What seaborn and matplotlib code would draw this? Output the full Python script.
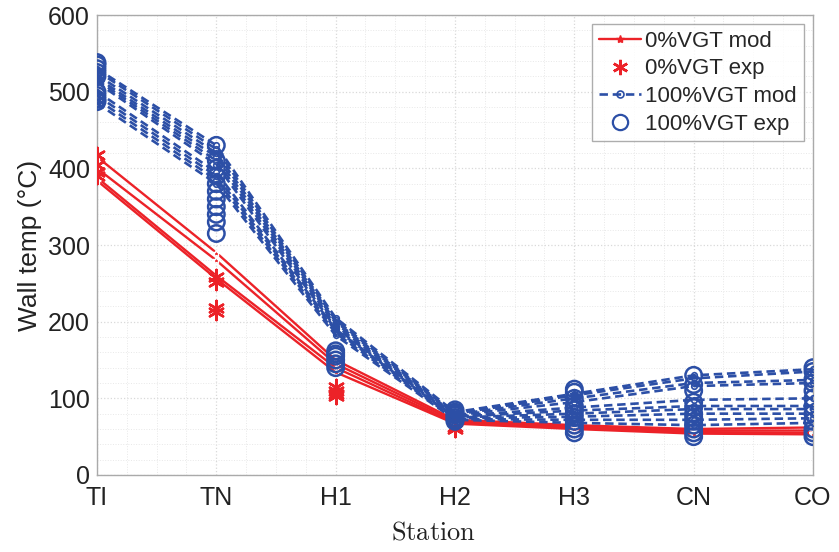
import numpy as np
import pandas as pd
import matplotlib
matplotlib.use("Agg")
import matplotlib.pyplot as plt
from matplotlib.lines import Line2D
from matplotlib.ticker import AutoMinorLocator, MultipleLocator
import seaborn as sns

stations = ["TI", "TN", "H1", "H2", "H3", "CN", "CO"]

# 0% VGT model runs (one list per run, values per station)
red_mod_1 = [415, 290, 150, 72, 65, 60, 62]
red_mod_2 = [400, 280, 145, 70, 63, 58, 58]
red_mod_3 = [388, 260, 140, 68, 62, 56, 55]
red_mod_4 = [384, 256, 134, 67, 60, 54, 53]

# 0% VGT experimental points
red_exp_station = ["TI", "TI", "TI", "TI", "TN", "TN", "TN", "TN", "H1", "H1", "H1", "H1", "H2", "H2"]
red_exp_temp = [418, 405, 395, 390, 258, 252, 218, 213, 115, 110, 105, 103, 62, 60]

# 100% VGT model runs
blue_mod_1 = [530, 430, 205, 82, 106, 130, 138]
blue_mod_2 = [527, 425, 202, 80, 104, 126, 135]
blue_mod_3 = [522, 420, 200, 79, 100, 120, 124]
blue_mod_4 = [518, 415, 198, 78, 95, 116, 120]
blue_mod_5 = [515, 410, 195, 77, 88, 98, 100]
blue_mod_6 = [512, 405, 192, 76, 84, 90, 90]
blue_mod_7 = [500, 395, 190, 75, 80, 86, 86]
blue_mod_8 = [495, 390, 188, 74, 76, 80, 80]
blue_mod_9 = [490, 385, 185, 73, 72, 72, 74]
blue_mod_10 = [485, 380, 182, 72, 68, 65, 68]

# 100% VGT experimental points
blue_exp_TI = [538, 535, 530, 525, 520, 500, 495, 490, 487]
blue_exp_TN = [430, 410, 400, 390, 380, 370, 360, 350, 340, 330, 315]
blue_exp_H1 = [162, 158, 155, 150, 145, 140]
blue_exp_H2 = [85, 82, 80, 78, 75, 72, 70]
blue_exp_H3 = [112, 108, 100, 90, 85, 80, 75, 70, 65, 60, 55]
blue_exp_CN = [130, 118, 110, 95, 88, 80, 75, 70, 65, 60, 55, 50]
blue_exp_CO = [140, 135, 125, 120, 110, 100, 90, 80, 70, 60, 55, 50]

RED = "#ec2228"
BLUE = "#2c4fa6"

pos = {s: i for i, s in enumerate(stations)}

def runs_df(runs):
    rows = []
    for r, vals in enumerate(runs):
        for s, v in zip(stations, vals):
            rows.append({"x": pos[s], "temp": v, "run": r})
    return pd.DataFrame(rows)

red_mod_df = runs_df([red_mod_1, red_mod_2, red_mod_3, red_mod_4])
blue_mod_df = runs_df([blue_mod_1, blue_mod_2, blue_mod_3, blue_mod_4, blue_mod_5,
                       blue_mod_6, blue_mod_7, blue_mod_8, blue_mod_9, blue_mod_10])
red_exp_df = pd.DataFrame({"x": [pos[s] for s in red_exp_station], "temp": red_exp_temp})
bexp = {"TI": blue_exp_TI, "TN": blue_exp_TN, "H1": blue_exp_H1, "H2": blue_exp_H2,
        "H3": blue_exp_H3, "CN": blue_exp_CN, "CO": blue_exp_CO}
blue_exp_df = pd.DataFrame([{"x": pos[s], "temp": v} for s, vals in bexp.items() for v in vals])

sns.set_style("white")
plt.rcParams["font.family"] = ["Liberation Sans", "DejaVu Sans"]
plt.rcParams["mathtext.fontset"] = "cm"

fig = plt.figure(figsize=(8.39, 5.52), dpi=100)
ax = fig.add_axes([0.1156, 0.1395, 0.8534, 0.8333])

sns.lineplot(data=blue_mod_df, x="x", y="temp", units="run", estimator=None, ax=ax,
             color=BLUE, linewidth=1.9, dashes=False, marker="o", markersize=4,
             markerfacecolor="none", markeredgecolor=BLUE, markeredgewidth=1.2, zorder=3)
for ln in ax.get_lines():
    ln.set_linestyle((0, (3.2, 1.8)))
sns.lineplot(data=red_mod_df, x="x", y="temp", units="run", estimator=None, ax=ax,
             color=RED, linewidth=1.7, marker="*", markersize=6, markeredgewidth=1,
             zorder=2)
sns.scatterplot(data=red_exp_df, x="x", y="temp", ax=ax, marker=(6, 2, 0), s=120,
                color=RED, edgecolor=RED, linewidth=1.8, zorder=4)
sns.scatterplot(data=blue_exp_df, x="x", y="temp", ax=ax, marker="o", s=140,
                facecolor="none", edgecolor=BLUE, linewidth=1.8, zorder=5)

ax.set_xlim(0, len(stations) - 1)
ax.set_ylim(0, 600)
ax.set_xticks(range(len(stations)))
ax.set_xticklabels(stations)
ax.yaxis.set_major_locator(MultipleLocator(100))
ax.yaxis.set_minor_locator(AutoMinorLocator(5))
ax.xaxis.set_minor_locator(AutoMinorLocator(4))
ax.grid(True, which="major", color="#d9d9d9", linestyle=":", linewidth=0.9)
ax.grid(True, which="minor", color="#e8e8e8", linestyle=":", linewidth=0.7)
ax.tick_params(axis="both", which="major", direction="in", length=6, labelsize=18,
               colors="#333333", labelcolor="#222222", pad=5)
ax.tick_params(axis="x", which="major", pad=8)
ax.tick_params(axis="both", which="minor", length=0)
for sp in ax.spines.values():
    sp.set_color("#aaaaaa")
    sp.set_linewidth(1.0)

ax.set_xlabel(r"$\mathrm{Station}$", fontsize=19, color="#222222")
ax.xaxis.set_label_coords(0.47, -0.1)
ax.set_ylabel("Wall temp (°C)", fontsize=19, color="#222222")
ax.yaxis.set_label_coords(-0.077, 0.5)

handles = [
    Line2D([], [], color=RED, linewidth=1.7, marker="*", markersize=6),
    Line2D([], [], color=RED, linestyle="none", marker=(6, 2, 0), markersize=11,
           markeredgewidth=1.8),
    Line2D([], [], color=BLUE, linestyle=(0, (3.2, 1.8)), linewidth=1.9, marker="o",
           markersize=5, markerfacecolor="none", markeredgewidth=1.2),
    Line2D([], [], color=BLUE, linestyle="none", marker="o", markersize=11,
           markerfacecolor="none", markeredgewidth=1.6),
]
labels = ["0%VGT mod", "0%VGT exp", "100%VGT mod", "100%VGT exp"]
leg = ax.legend(handles, labels, loc="upper right", bbox_to_anchor=(0.99, 0.985),
                fontsize=16, frameon=True, fancybox=False, handlelength=1.9,
                handletextpad=0.2, borderpad=0.3, labelspacing=0.3,
                borderaxespad=0.1)
leg.get_frame().set_edgecolor("#999999")
leg.get_frame().set_linewidth(1.0)

fig.savefig("out.png", dpi=100)
